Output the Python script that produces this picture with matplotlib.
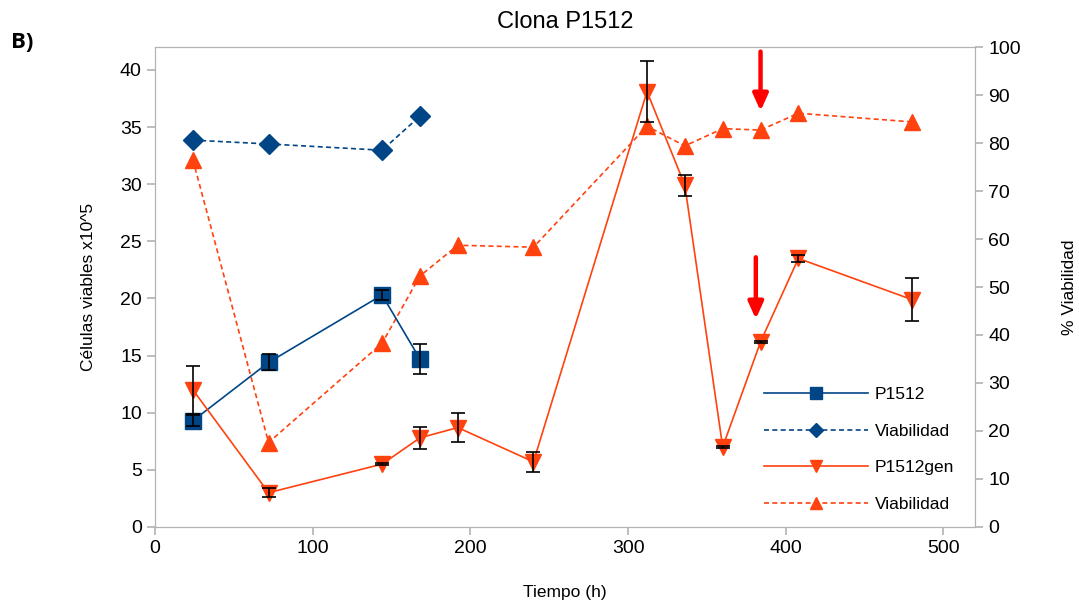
import matplotlib
matplotlib.use("Agg")
from matplotlib import pyplot

pyplot.rcParams["font.family"] = ["Liberation Sans", "DejaVu Sans"]

# data
t_p1512 = [24, 72, 144, 168]
cel_p1512 = [9.3, 14.4, 20.3, 14.7]
err_p1512 = [0.5, 0.7, 0.4, 1.3]
via_p1512 = [80.6, 79.8, 78.5, 85.6]

t_gen = [24, 72, 144, 168, 192, 240, 312, 336, 360, 384, 408, 480]
cel_gen = [12.0, 3.0, 5.5, 7.8, 8.7, 5.7, 38.1, 29.9, 7.0, 16.2, 23.5, 19.9]
err_gen = [2.1, 0.4, 0.1, 0.95, 1.3, 0.9, 2.7, 0.9, 0.1, 0.1, 0.3, 1.85]
via_gen = [76.5, 17.6, 38.3, 52.3, 58.7, 58.3, 83.5, 79.4, 83.0, 82.7, 86.2, 84.4]

arrow_x = [384, 381]
arrow_top = [41.6, 23.6]
arrow_tip = [36.4, 18.2]

blue = "#004586"
orange = "#ff420e"
grey = "#b3b3b3"
dash = (0, (3, 2))

figure = pyplot.figure(figsize=(10.79, 6.06), dpi=100)
axis = figure.add_axes([0.1437, 0.1304, 0.9036 - 0.1437, 0.9224 - 0.1304])
axis2 = axis.twinx()

l1, = axis.plot(t_p1512, cel_p1512, color=blue, lw=1.2, marker="s", ms=12,
                label="P1512", zorder=3)
axis.errorbar(t_p1512, cel_p1512, yerr=err_p1512, fmt="none", ecolor="black",
              elinewidth=1.2, capsize=5, capthick=1.2, zorder=5)
l3, = axis.plot(t_gen, cel_gen, color=orange, lw=1.2, marker="v", ms=12,
                label="P1512gen", zorder=3)
axis.errorbar(t_gen, cel_gen, yerr=err_gen, fmt="none", ecolor="black",
              elinewidth=1.2, capsize=5, capthick=1.2, zorder=5)

l2, = axis2.plot(t_p1512, via_p1512, color=blue, lw=1.2, ls=dash, marker="D",
                 ms=10, label="Viabilidad")
l4, = axis2.plot(t_gen, via_gen, color=orange, lw=1.2, ls=dash, marker="^",
                 ms=12, label="Viabilidad")

for x, y0, y1 in zip(arrow_x, arrow_top, arrow_tip):
    axis.annotate("", xy=(x, y1), xytext=(x, y0), zorder=6,
                  arrowprops=dict(arrowstyle="-|>,head_width=0.45,head_length=1.0",
                                  color="red", lw=3.2, shrinkA=0, shrinkB=0))

axis.set_xlim(0, 520)
axis.set_ylim(0, 42)
axis2.set_ylim(0, 100)
axis.set_xticks(range(0, 501, 100))
axis.set_yticks(range(0, 41, 5))
axis2.set_yticks(range(0, 101, 10))

for ax in (axis, axis2):
    for s in ax.spines.values():
        s.set_color(grey)
    ax.tick_params(colors=grey, labelcolor="black", labelsize=14, length=6,
                   width=1.2)
axis.set_zorder(axis2.get_zorder() + 1)
axis.patch.set_visible(False)

axis.set_xlabel("Tiempo (h)", fontsize=12.5, labelpad=20)
axis.set_ylabel("Células viables x10^5", fontsize=12.5, labelpad=17)
axis2.set_ylabel("% Viabilidad", fontsize=12.5, labelpad=30)
axis.set_title("Clona P1512", fontsize=17, pad=14)
figure.text(0.01, 0.92, "B)", fontsize=16, fontweight="bold",
            family=["Open Sans", "DejaVu Sans"])

axis.legend(handles=[l1, l2, l3, l4], loc="lower right", frameon=False,
            fontsize=12.5, handlelength=6.0, handletextpad=0.4,
            markerscale=0.7, labelspacing=1.25,
            bbox_to_anchor=(0.994, -0.002))

pyplot.savefig("out.png")
